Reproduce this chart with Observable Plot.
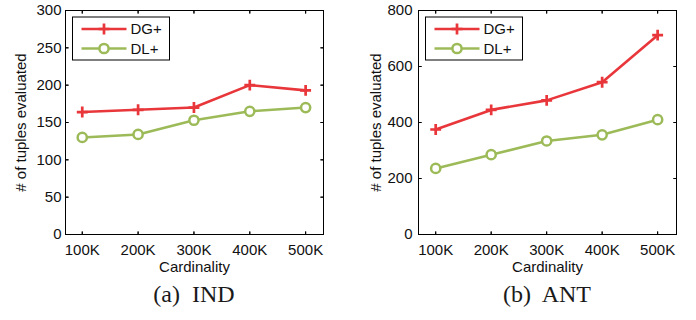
<!DOCTYPE html>
<html>
<head>
<meta charset="utf-8">
<script src="https://cdn.jsdelivr.net/npm/d3@7"></script>
<script src="https://cdn.jsdelivr.net/npm/@observablehq/plot@0.6"></script>
<style>
  html, body { margin: 0; padding: 0; background: #fff; }
  #wrap { display: flex; width: 696px; height: 320px; }
  .panel { width: 348px; position: relative; }
  .caption { font-family: "Liberation Serif", "Times New Roman", serif; font-size: 24px; line-height: 28px; color: #1a1a1a; text-align: center; white-space: pre; }
  svg { display: block; }
</style>
</head>
<body>
<div id="wrap">
  <div class="panel" id="p1"></div>
  <div class="panel" id="p2"></div>
</div>
<script>
// ---- data ----
const cardinality = [100, 200, 300, 400, 500];
const xTickLabels = ["100K", "200K", "300K", "400K", "500K"];
const seriesNames = ["DG+", "DL+"];
const indDG = [164, 167, 170, 200, 193];
const indDL = [130, 134, 153, 165, 170];
const antDG = [375, 445, 479, 544, 712];
const antDL = [236, 285, 334, 356, 410];
const indYTicks = [0, 50, 100, 150, 200, 250, 300];
const antYTicks = [0, 200, 400, 600, 800];
const captions = ["(a)\u00a0 IND", "(b)\u00a0 ANT"];

const RED = "#e8363a";
const GREEN = "#9cbb58";
const FONT = "Liberation Sans, Arial, sans-serif";

function makePanel(el, dg, dl, yMax, yTicks, xDomain, ml, mr, yTickPad, yLabelOffset, caption) {
  const W = 348, H = 280, mt = 10, mb = 46;
  const rows = (vals) => cardinality.map((c, i) => ({x: c, y: vals[i]}));
  const dgRows = rows(dg), dlRows = rows(dl);
  const spike = {shape: "spike", r: 0, length: 3, anchor: "start", stroke: "black", fill: "none", strokeWidth: 1};
  const plot = Plot.plot({
    width: W, height: H,
    marginLeft: ml, marginRight: mr, marginTop: mt, marginBottom: mb,
    style: {fontFamily: FONT, fontSize: "15px", color: "#111", background: "white"},
    x: {domain: xDomain, axis: null},
    y: {domain: [0, yMax], axis: null},
    marks: [
      Plot.axisX(cardinality, {tickSize: 0, tickPadding: 10, tickFormat: d => xTickLabels[cardinality.indexOf(d)],
        label: "Cardinality", labelAnchor: "center", labelOffset: 37, labelArrow: "none"}),
      Plot.axisY(yTicks, {tickSize: 0, tickPadding: yTickPad,
        label: "# of tuples evaluated", labelAnchor: "center", labelOffset: yLabelOffset, labelArrow: "none"}),
      Plot.vector(cardinality, {x: d => d, frameAnchor: "bottom", rotate: 0, ...spike}),
      Plot.vector(cardinality, {x: d => d, frameAnchor: "top", rotate: 180, ...spike}),
      Plot.vector(yTicks, {y: d => d, frameAnchor: "left", rotate: 90, ...spike}),
      Plot.vector(yTicks, {y: d => d, frameAnchor: "right", rotate: -90, ...spike}),
      Plot.frame({stroke: "black", strokeWidth: 1}),
      Plot.line(dgRows, {x: "x", y: "y", stroke: RED, strokeWidth: 2.6}),
      Plot.dot(dgRows, {x: "x", y: "y", symbol: "plus", r: 3.6, stroke: RED, fill: "none", strokeWidth: 2.7}),
      Plot.line(dlRows, {x: "x", y: "y", stroke: GREEN, strokeWidth: 2.6}),
      Plot.dot(dlRows, {x: "x", y: "y", symbol: "circle", r: 4.6, stroke: GREEN, fill: "white", strokeWidth: 2.5})
    ]
  });
  el.appendChild(plot);

  // legend (inside plot frame, top-left)
  const svg = d3.select(plot);
  const g = svg.append("g").attr("transform", `translate(${ml + 7.5},${17})`)
    .style("font-family", FONT).style("font-size", "15px").attr("text-anchor", "start");
  g.append("rect").attr("x", 0).attr("y", 0).attr("width", 97).attr("height", 43)
    .attr("fill", "white").attr("stroke", "black").attr("stroke-width", 1);
  const entries = [{name: seriesNames[0], color: RED, sym: "plus"}, {name: seriesNames[1], color: GREEN, sym: "circle"}];
  entries.forEach((e, i) => {
    const cy = 12 + i * 19.5;
    g.append("line").attr("x1", 9).attr("x2", 54).attr("y1", cy).attr("y2", cy)
      .attr("stroke", e.color).attr("stroke-width", 2.6);
    if (e.sym === "plus") {
      g.append("path").attr("d", `M${31.5 - 5.5},${cy}h11M31.5,${cy - 5.5}v11`)
        .attr("stroke", e.color).attr("stroke-width", 2.7).attr("fill", "none");
    } else {
      g.append("circle").attr("cx", 31.5).attr("cy", cy).attr("r", 4.6)
        .attr("stroke", e.color).attr("stroke-width", 2.5).attr("fill", "white");
    }
    g.append("text").attr("x", 58).attr("y", cy).attr("dy", "0.36em").attr("text-anchor", "start")
      .attr("fill", "#111").text(e.name);
  });

  const cap = document.createElement("div");
  cap.className = "caption";
  const center = ml + (W - ml - mr) / 2;
  cap.style.paddingLeft = (2 * center - W) + "px";
  cap.style.width = (W - (2 * center - W)) + "px";
  cap.textContent = caption;
  el.appendChild(cap);
}

makePanel(document.getElementById("p1"), indDG, indDL, 300, indYTicks, [70, 532], 65, 25, 4, 50, captions[0]);
makePanel(document.getElementById("p2"), antDG, antDL, 800, antYTicks, [69, 534], 70, 20, 6, 48, captions[1]);
</script>
</body>
</html>
